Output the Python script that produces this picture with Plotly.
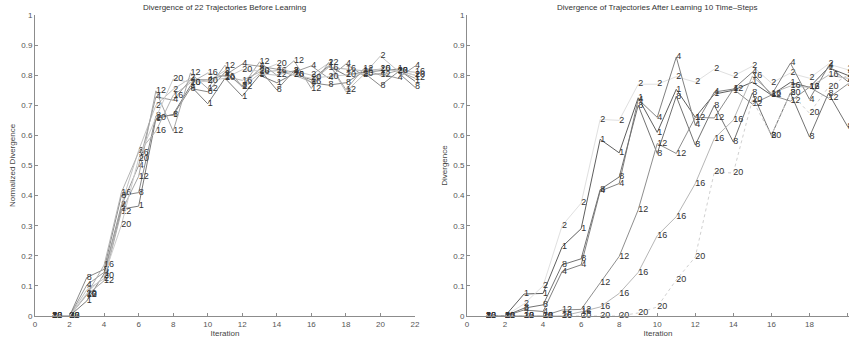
import plotly.graph_objects as go

# ---------------- data ----------------
labels = ["1", "2", "4", "8", "12", "16", "20"]

iters_before = list(range(1, 23))
before_1 = [0, 0, 0.05, 0.14, 0.355, 0.365, 0.655, 0.67, 0.765, 0.705, 0.79, 0.73, 0.80, 0.775, 0.805, 0.785, 0.83, 0.80, 0.81, 0.815, 0.82, 0.78]
before_2 = [0, 0, 0.087, 0.124, 0.37, 0.55, 0.70, 0.753, 0.79, 0.78, 0.815, 0.76, 0.805, 0.80, 0.815, 0.80, 0.84, 0.745, 0.80, 0.864, 0.815, 0.80]
before_4 = [0, 0, 0.103, 0.145, 0.365, 0.50, 0.728, 0.717, 0.785, 0.785, 0.80, 0.837, 0.83, 0.82, 0.81, 0.831, 0.79, 0.837, 0.80, 0.805, 0.79, 0.83]
before_8 = [0, 0, 0.128, 0.155, 0.40, 0.41, 0.664, 0.667, 0.756, 0.745, 0.81, 0.765, 0.82, 0.751, 0.815, 0.775, 0.767, 0.775, 0.81, 0.765, 0.81, 0.76]
before_12 = [0, 0, 0.07, 0.117, 0.347, 0.464, 0.748, 0.614, 0.807, 0.756, 0.833, 0.762, 0.844, 0.80, 0.848, 0.756, 0.842, 0.752, 0.82, 0.80, 0.815, 0.79]
before_16 = [0, 0, 0.072, 0.169, 0.41, 0.544, 0.614, 0.733, 0.775, 0.807, 0.796, 0.783, 0.81, 0.815, 0.80, 0.778, 0.826, 0.82, 0.815, 0.82, 0.815, 0.81]
before_20 = [0, 0, 0.075, 0.133, 0.302, 0.523, 0.659, 0.787, 0.776, 0.78, 0.79, 0.818, 0.814, 0.837, 0.80, 0.79, 0.796, 0.80, 0.805, 0.82, 0.815, 0.80]

iters_after = list(range(1, 22))
after_1 = [0, 0, 0.073, 0.075, 0.23, 0.29, 0.587, 0.542, 0.725, 0.61, 0.753, 0.66, 0.737, 0.75, 0.777, 0.734, 0.776, 0.76, 0.825, 0.80, 0.78]
after_2 = [0, 0, 0.04, 0.10, 0.30, 0.375, 0.653, 0.65, 0.77, 0.77, 0.795, 0.777, 0.82, 0.797, 0.83, 0.774, 0.807, 0.79, 0.837, 0.82, 0.80]
after_4 = [0, 0, 0.02, 0.015, 0.148, 0.17, 0.415, 0.44, 0.72, 0.66, 0.86, 0.634, 0.744, 0.754, 0.81, 0.734, 0.84, 0.72, 0.83, 0.78, 0.80]
after_8 = [0, 0, 0.026, 0.037, 0.17, 0.19, 0.42, 0.462, 0.70, 0.54, 0.73, 0.568, 0.70, 0.578, 0.741, 0.60, 0.741, 0.595, 0.74, 0.63, 0.60]
after_12 = [0, 0, 0, 0, 0.02, 0.022, 0.11, 0.198, 0.353, 0.573, 0.54, 0.66, 0.658, 0.754, 0.704, 0.734, 0.714, 0.76, 0.724, 0.77, 0.78]
after_16 = [0, 0, 0, 0, 0, 0.014, 0.03, 0.075, 0.145, 0.267, 0.33, 0.44, 0.59, 0.651, 0.797, 0.74, 0.764, 0.76, 0.80, 0.79, 0.78]
after_20 = [0, 0, 0, 0, 0, 0, 0.0, 0.0, 0.01, 0.03, 0.12, 0.196, 0.478, 0.475, 0.718, 0.60, 0.741, 0.674, 0.76, 0.80, 0.78]

x_ticks_before = list(range(0, 23, 2))
x_ticks_after = list(range(0, 21, 2))
y_ticks = [round(i * 0.1, 1) for i in range(11)]
y_tick_text = ["0"] + [f"{v:.1f}" for v in y_ticks[1:-1]] + ["1"]

# ---------------- style ----------------
FONT = "Liberation Sans, Arial, Helvetica, sans-serif"
before_series = [before_1, before_2, before_4, before_8, before_12, before_16, before_20]
after_series = [after_1, after_2, after_4, after_8, after_12, after_16, after_20]
before_colors = ["#7a7a7a", "#c2c2c2", "#9a9a9a", "#888888", "#a6a6a6", "#b2b2b2", "#cccccc"]
after_colors = ["#5e5e5e", "#e0e0e0", "#808080", "#727272", "#8e8e8e", "#b6b6b6", "#d0d0d0"]
after_dash = ["solid", "solid", "solid", "solid", "solid", "solid", "dot"]

fig = go.Figure()

for lab, ys, col in zip(labels, before_series, before_colors):
    fig.add_trace(go.Scatter(
        x=iters_before, y=ys, mode="lines+text",
        text=[lab] * len(ys), textposition="middle right",
        textfont=dict(family=FONT, size=9, color="#333333"),
        line=dict(color=col, width=1), cliponaxis=False,
        xaxis="x", yaxis="y", showlegend=False, hoverinfo="x+y",
    ))

for lab, ys, col, dash in zip(labels, after_series, after_colors, after_dash):
    fig.add_trace(go.Scatter(
        x=iters_after, y=ys, mode="lines+text",
        text=[lab] * len(ys), textposition="middle right",
        textfont=dict(family=FONT, size=9, color="#333333"),
        line=dict(color=col, width=1, dash=dash), cliponaxis=False,
        xaxis="x2", yaxis="y2", showlegend=False, hoverinfo="x+y",
    ))

axis_common = dict(
    showgrid=False, zeroline=False, showline=True, linecolor="#8c8c8c", linewidth=1,
    ticks="inside", ticklen=3, tickcolor="#8c8c8c", automargin=False,
    tickfont=dict(family=FONT, size=8, color="#555555"),
)
title_font = dict(family=FONT, size=8, color="#444")

fig.update_layout(
    width=849, height=345,
    margin=dict(l=35, r=0, t=15, b=29, autoexpand=False),
    paper_bgcolor="white", plot_bgcolor="white",
    xaxis=dict(domain=[0, 0.4668], range=[0, 22], tickvals=x_ticks_before,
               title=dict(text="Iteration", font=title_font, standoff=2),
               anchor="y", **axis_common),
    yaxis=dict(domain=[0, 1], range=[0, 1], tickvals=y_ticks, ticktext=y_tick_text,
               title=dict(text="Normalized Divergence", font=title_font, standoff=4),
               anchor="x", **axis_common),
    xaxis2=dict(domain=[0.5307, 1], range=[0, 20.08], tickvals=x_ticks_after,
                title=dict(text="Iteration", font=title_font, standoff=2),
                anchor="y2", **axis_common),
    yaxis2=dict(domain=[0, 1], range=[0, 1], tickvals=y_ticks, ticktext=y_tick_text,
                title=dict(text="Divergence", font=title_font, standoff=4),
                anchor="x2", **axis_common),
    annotations=[
        dict(text="Divergence of 22 Trajectories Before Learning", xref="x domain", yref="paper",
             x=0.5, y=1, yshift=8, showarrow=False, xanchor="center", yanchor="middle",
             font=dict(family=FONT, size=8, color="#333")),
        dict(text="Divergence of Trajectories After Learning 10 Time\u2013Steps", xref="x2 domain", yref="paper",
             x=0.5, y=1, yshift=8, showarrow=False, xanchor="center", yanchor="middle",
             font=dict(family=FONT, size=8, color="#333")),
    ],
)

fig.write_html(
    "out.html",
    config={"displayModeBar": False},
    post_script="document.body.style.margin='0px';document.body.style.overflow='hidden';",
)
